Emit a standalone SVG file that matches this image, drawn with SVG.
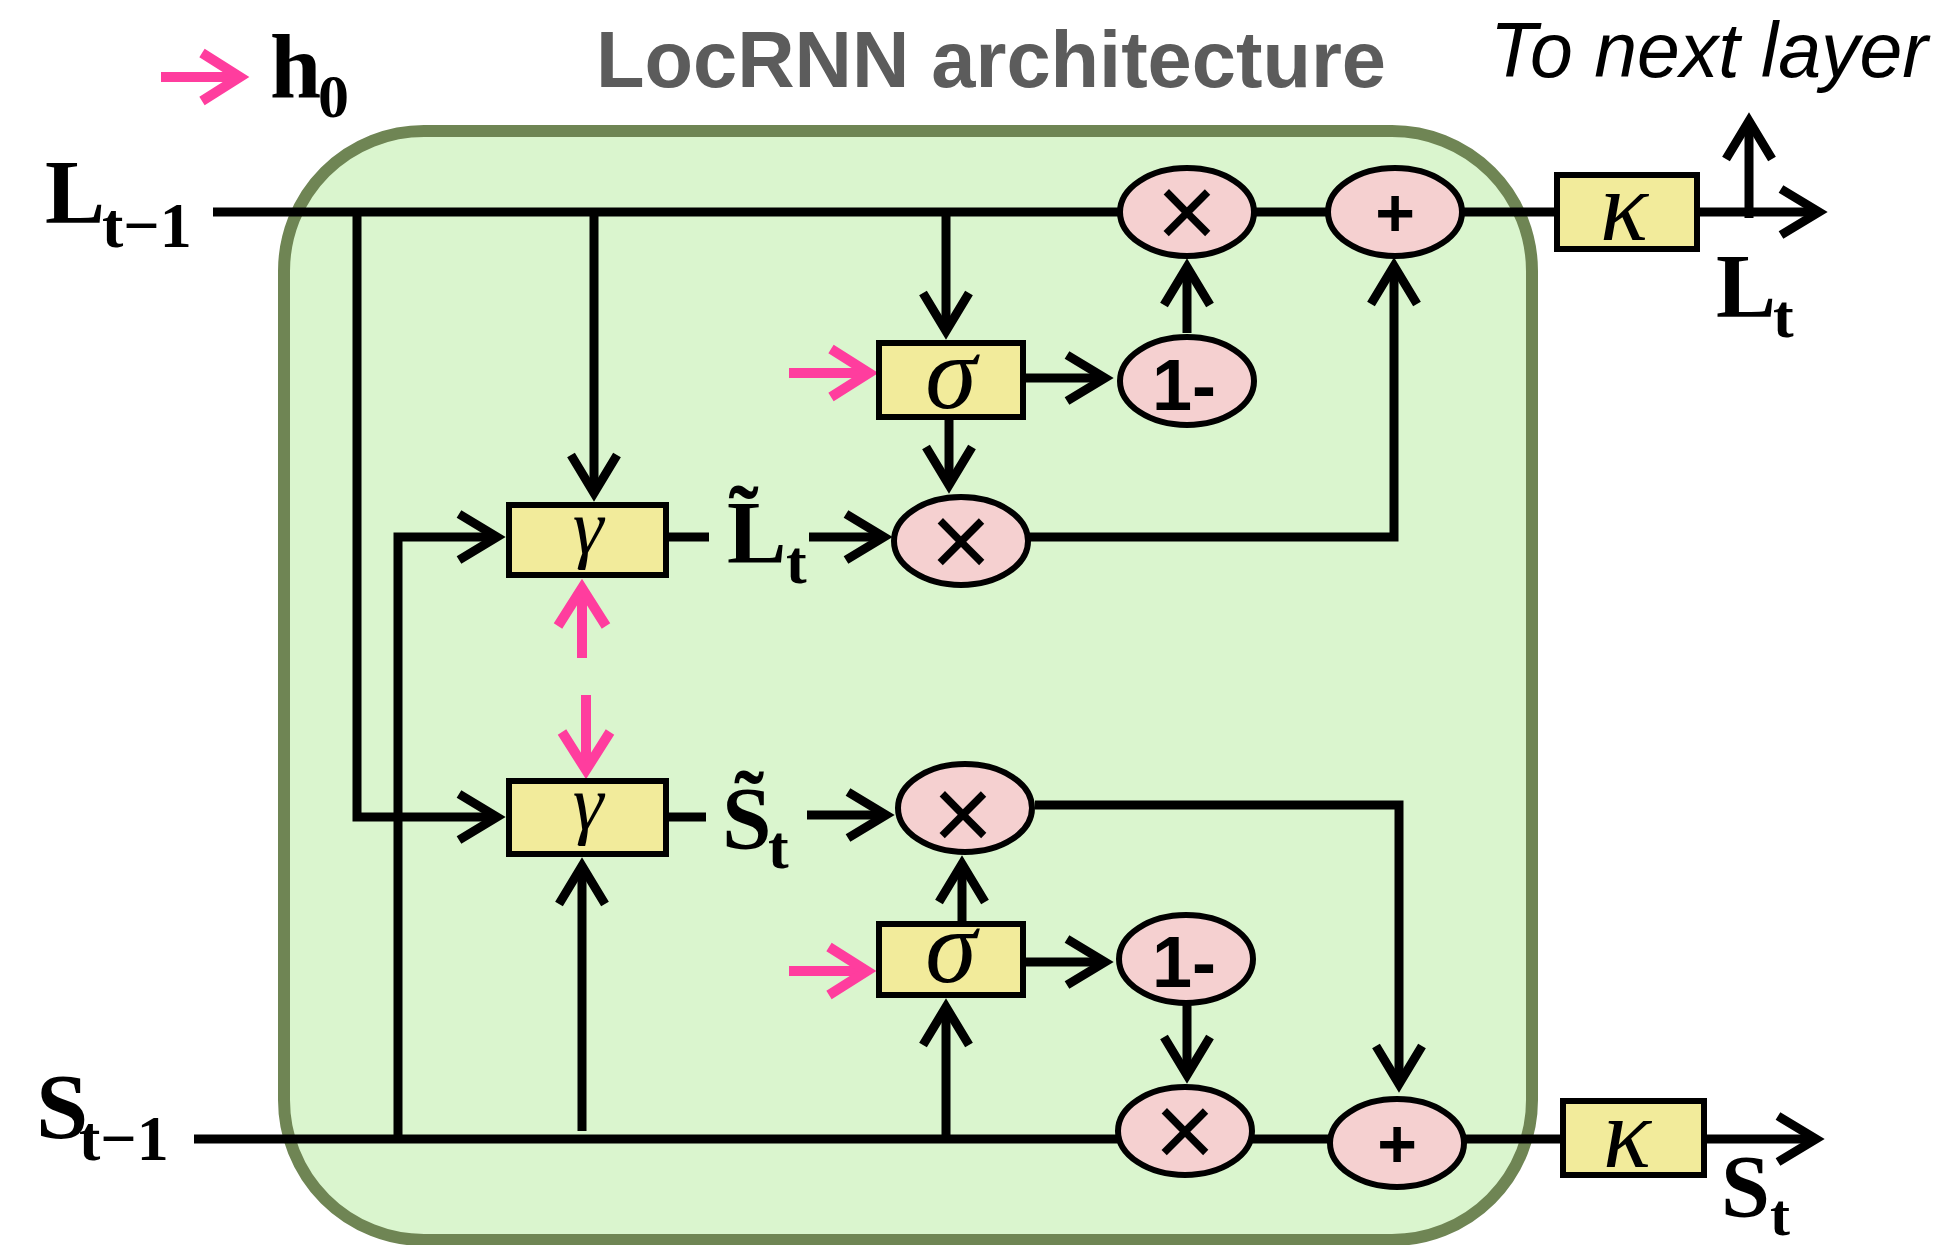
<svg xmlns="http://www.w3.org/2000/svg" width="1946" height="1245" viewBox="0 0 1946 1245">
  <defs>
    <marker id="ah" markerUnits="userSpaceOnUse" orient="auto" refX="0" refY="0" markerWidth="1" markerHeight="1" overflow="visible">
      <path d="M-38,-23 L0,0 L-38,23" fill="none" stroke="#000" stroke-width="9"/>
    </marker>
    <marker id="ahp" markerUnits="userSpaceOnUse" orient="auto" refX="0" refY="0" markerWidth="1" markerHeight="1" overflow="visible">
      <path d="M-38,-24 L0,0 L-38,24" fill="none" stroke="#ff3d9e" stroke-width="10"/>
    </marker>
    <style>
      .wire { fill: none; stroke: #000; stroke-width: 9; }
      .arr { marker-end: url(#ah); }
      .pink { fill: none; stroke: #ff3d9e; stroke-width: 10; marker-end: url(#ahp); }
      .box { fill: #f2eb9b; stroke: #000; stroke-width: 6; }
      .op { fill: #f5d0d0; stroke: #000; stroke-width: 6; }
      .greek { font-family: "Liberation Serif", "DejaVu Serif", serif; font-style: italic; fill: #000; text-anchor: middle; }
      .sym { font-family: "Liberation Sans", Arial, sans-serif; fill: #000; text-anchor: middle; }
      .math { font-family: "Liberation Serif", "Times New Roman", serif; font-weight: bold; fill: #000; }
    </style>
  </defs>

  <rect width="1946" height="1245" fill="#fff"/>

  <!-- titles -->
  <text x="596" y="87" font-family="Liberation Sans, Arial, sans-serif" font-weight="bold" font-size="80" fill="#5c5c5c" textLength="790" lengthAdjust="spacingAndGlyphs">LocRNN architecture</text>
  <text x="1490" y="77" font-family="Liberation Sans, Arial, sans-serif" font-style="italic" font-size="77" fill="#000">To next layer</text>

  <!-- cell background -->
  <rect id="cell" x="284" y="131" width="1248" height="1109" rx="140" ry="140" fill="#daf5ce" stroke="#6f8554" stroke-width="12"/>

  <!-- connectors -->
  <g id="connectors">
    <path class="wire arr" d="M213,212 H1819"/>
    <path class="wire arr" d="M1749,218 V121"/>
    <path class="wire arr" d="M357,212 V817 H497"/>
    <path class="wire arr" d="M594,212 V493"/>
    <path class="wire arr" d="M946,212 V331"/>
    <path class="wire arr" d="M398,1139 V537 H497"/>
    <path class="wire arr" d="M194,1139 H1816"/>
    <path class="wire arr" d="M582,1131 V866"/>
    <path class="wire arr" d="M946,1139 V1007"/>
    <path class="wire arr" d="M1025,378 H1105"/>
    <path class="wire arr" d="M949,420 V485"/>
    <path class="wire arr" d="M1187,333 V267"/>
    <path class="wire" d="M669,537 H709"/>
    <path class="wire arr" d="M809,537 H884"/>
    <path class="wire arr" d="M1030,537 H1394 V266"/>
    <path class="wire" d="M669,817 H706"/>
    <path class="wire arr" d="M807,815 H886"/>
    <path class="wire arr" d="M1035,805 H1399 V1084"/>
    <path class="wire arr" d="M962,921 V864"/>
    <path class="wire arr" d="M1026,962 H1105"/>
    <path class="wire arr" d="M1187,1005 V1075"/>
    <path class="pink" d="M161,77 H240"/>
    <path class="pink" d="M789,373 H869"/>
    <path class="pink" d="M789,971 H867"/>
    <path class="pink" d="M582,658 V588"/>
    <path class="pink" d="M586,695 V770"/>
  </g>

  <!-- gates -->
  <g id="gamma-L"><rect class="box" x="509" y="505" width="157" height="70"/><text class="greek" x="588" y="553" font-size="78">γ</text></g>
  <g id="gamma-S"><rect class="box" x="509" y="781" width="157" height="73"/><text class="greek" x="588" y="829" font-size="78">γ</text></g>
  <g id="sigma-L"><rect class="box" x="879" y="343" width="144" height="74"/><text class="greek" x="951" y="408" font-size="104">σ</text></g>
  <g id="sigma-S"><rect class="box" x="879" y="924" width="144" height="71"/><text class="greek" x="951" y="982" font-size="104">σ</text></g>
  <g id="kappa-L"><rect class="box" x="1557" y="175" width="140" height="74"/><text class="greek" x="1624" y="240" font-size="100">κ</text></g>
  <g id="kappa-S"><rect class="box" x="1563" y="1101" width="141" height="74"/><text class="greek" x="1627" y="1167" font-size="100">κ</text></g>

  <!-- pointwise operations -->
  <g id="mul-L"><ellipse class="op" cx="1187" cy="212" rx="67" ry="44"/><text class="sym" x="1187" y="248" font-size="105">×</text></g>
  <g id="add-L"><ellipse class="op" cx="1395" cy="212" rx="67" ry="44"/><text class="sym" x="1395" y="236" font-size="68" font-weight="bold">+</text></g>
  <g id="inv-L"><ellipse class="op" cx="1187" cy="381" rx="67" ry="44"/><text class="sym" x="1184" y="410" font-size="72" font-weight="bold">1-</text></g>
  <g id="mul-Lt"><ellipse class="op" cx="961" cy="541" rx="67" ry="44"/><text class="sym" x="961" y="577" font-size="105">×</text></g>
  <g id="mul-St"><ellipse class="op" cx="965" cy="808" rx="67" ry="44"/><text class="sym" x="963" y="850" font-size="105">×</text></g>
  <g id="inv-S"><ellipse class="op" cx="1186" cy="959" rx="67" ry="44"/><text class="sym" x="1184" y="987" font-size="72" font-weight="bold">1-</text></g>
  <g id="mul-S"><ellipse class="op" cx="1185" cy="1131" rx="67" ry="44"/><text class="sym" x="1185" y="1167" font-size="105">×</text></g>
  <g id="add-S"><ellipse class="op" cx="1397" cy="1143" rx="67" ry="44"/><text class="sym" x="1397" y="1167" font-size="68" font-weight="bold">+</text></g>

  <!-- state labels -->
  <g id="labels">
    <text class="math" x="270" y="97" font-size="92">h</text>
    <text class="math" x="318" y="117" font-size="62">0</text>
    <text class="math" x="45" y="223" font-size="90">L</text>
    <text class="math" x="102" y="247" font-size="64">t−1</text>
    <text class="math" x="36" y="1138" font-size="94">S</text>
    <text class="math" x="79" y="1160" font-size="64">t−1</text>
    <text class="math" x="1716" y="317" font-size="90">L</text>
    <text class="math" x="1773" y="337" font-size="62">t</text>
    <text class="math" x="1721" y="1216" font-size="88">S</text>
    <text class="math" x="1770" y="1235" font-size="60">t</text>
    <text class="math" x="727" y="562" font-size="89">L̃</text>
    <text class="math" x="786" y="583" font-size="62">t</text>
    <text class="math" x="722" y="848" font-size="89">S̃</text>
    <text class="math" x="768" y="868" font-size="62">t</text>
  </g>
</svg>
